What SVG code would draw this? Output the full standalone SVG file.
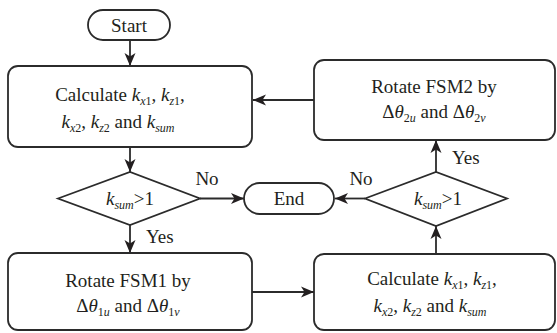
<svg xmlns="http://www.w3.org/2000/svg" width="557" height="333" viewBox="0 0 557 333">
<style>
.box{fill:#fff;stroke:#2b2b2b;stroke-width:1.8}
.ln{fill:none;stroke:#2b2b2b;stroke-width:1.8}
text{font-family:"Liberation Serif","Times New Roman",Times,"Nimbus Roman","Noto Serif","DejaVu Serif",FreeSerif,Tinos,serif;font-size:19px;fill:#231f20}
.t{text-anchor:middle}
.i{font-style:italic}
.s{font-size:12px}
</style>
<defs>
<marker id="ah" markerUnits="userSpaceOnUse" markerWidth="14" markerHeight="12" refX="13" refY="6" orient="auto">
<path d="M0,0.5 L13,6 L0,11.5 L3.5,6 Z" fill="#231f20"/>
</marker>
</defs>
<g id="connectors">
<line class="ln" x1="130" y1="40" x2="130" y2="66" marker-end="url(#ah)"/>
<line class="ln" x1="130" y1="147" x2="130" y2="172" marker-end="url(#ah)"/>
<line class="ln" x1="200" y1="198.5" x2="244" y2="198.5" marker-end="url(#ah)"/>
<text x="207" y="185" class="t">No</text>
<line class="ln" x1="130" y1="225" x2="130" y2="253" marker-end="url(#ah)"/>
<text x="146" y="243">Yes</text>
<line class="ln" x1="252" y1="292" x2="314" y2="292" marker-end="url(#ah)"/>
<line class="ln" x1="436" y1="254" x2="436" y2="226" marker-end="url(#ah)"/>
<line class="ln" x1="365" y1="198.5" x2="335" y2="198.5" marker-end="url(#ah)"/>
<text x="361" y="185" class="t">No</text>
<line class="ln" x1="436" y1="172" x2="436" y2="140" marker-end="url(#ah)"/>
<text x="452" y="164">Yes</text>
<line class="ln" x1="314" y1="100" x2="253" y2="100" marker-end="url(#ah)"/>
</g>
<g id="start">
<rect class="box" x="88" y="10" width="82" height="30" rx="15" ry="15"/>
<text x="129" y="32" class="t">Start</text>
</g>
<g id="calc1">
<rect class="box" x="8" y="66" width="244" height="81" rx="10" ry="10"/>
<text x="120" y="101" class="t">Calculate <tspan class="i">k</tspan><tspan class="s i" dy="4">x</tspan><tspan class="s">1</tspan><tspan dy="-4">, </tspan><tspan class="i">k</tspan><tspan class="s i" dy="4">z</tspan><tspan class="s">1</tspan><tspan dy="-4">,</tspan></text>
<text x="118" y="128" class="t"><tspan class="i">k</tspan><tspan class="s i" dy="4">x</tspan><tspan class="s">2</tspan><tspan dy="-4">, </tspan><tspan class="i">k</tspan><tspan class="s i" dy="4">z</tspan><tspan class="s">2</tspan><tspan dy="-4"> and </tspan><tspan class="i">k</tspan><tspan class="s i" dy="4">sum</tspan></text>
</g>
<g id="decision1">
<polygon class="box" points="58,198.5 130,172 200,198.5 130,225"/>
<text x="130" y="205" class="t"><tspan class="i">k</tspan><tspan class="s i" dy="4">sum</tspan><tspan dy="-4">&gt;1</tspan></text>
</g>
<g id="end">
<rect class="box" x="244" y="183" width="90" height="31" rx="15.5" ry="15.5"/>
<text x="289" y="205" class="t">End</text>
</g>
<g id="rotate1">
<rect class="box" x="8" y="253" width="244" height="77" rx="10" ry="10"/>
<text x="128" y="287" class="t">Rotate FSM1 by</text>
<text x="128" y="312" class="t">Δ<tspan class="i">θ</tspan><tspan class="s" dy="4">1</tspan><tspan class="s i">u</tspan><tspan dy="-4"> and Δ</tspan><tspan class="i">θ</tspan><tspan class="s" dy="4">1</tspan><tspan class="s i">v</tspan></text>
</g>
<g id="calc2">
<rect class="box" x="314" y="254" width="241" height="76" rx="10" ry="10"/>
<text x="432" y="285" class="t">Calculate <tspan class="i">k</tspan><tspan class="s i" dy="4">x</tspan><tspan class="s">1</tspan><tspan dy="-4">, </tspan><tspan class="i">k</tspan><tspan class="s i" dy="4">z</tspan><tspan class="s">1</tspan><tspan dy="-4">,</tspan></text>
<text x="430" y="312" class="t"><tspan class="i">k</tspan><tspan class="s i" dy="4">x</tspan><tspan class="s">2</tspan><tspan dy="-4">, </tspan><tspan class="i">k</tspan><tspan class="s i" dy="4">z</tspan><tspan class="s">2</tspan><tspan dy="-4"> and </tspan><tspan class="i">k</tspan><tspan class="s i" dy="4">sum</tspan></text>
</g>
<g id="decision2">
<polygon class="box" points="365,198.5 436,172 507,198.5 436,226"/>
<text x="438" y="205" class="t"><tspan class="i">k</tspan><tspan class="s i" dy="4">sum</tspan><tspan dy="-4">&gt;1</tspan></text>
</g>
<g id="rotate2">
<rect class="box" x="314" y="60" width="241" height="80" rx="10" ry="10"/>
<text x="434" y="93" class="t">Rotate FSM2 by</text>
<text x="434" y="118" class="t">Δ<tspan class="i">θ</tspan><tspan class="s" dy="4">2</tspan><tspan class="s i">u</tspan><tspan dy="-4"> and Δ</tspan><tspan class="i">θ</tspan><tspan class="s" dy="4">2</tspan><tspan class="s i">v</tspan></text>
</g>
</svg>
